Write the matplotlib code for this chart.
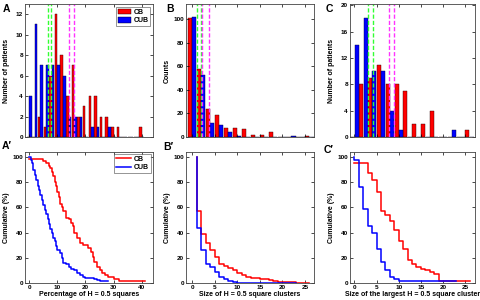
import numpy as np
import matplotlib
matplotlib.use("Agg")
import matplotlib.pyplot as plt
from matplotlib.patches import Patch
from matplotlib.lines import Line2D

RED = "#ff0000"
BLUE = "#0000ff"
GREEN = "#33ff33"
MAGENTA = "#ff33ff"

# ---- top row: histograms (bin centres, counts) ----
a_bins = list(range(0, 42, 2))
a_cb = [0, 0, 2, 1, 6, 12, 8, 4, 7, 2, 3, 4, 4, 2, 2, 1, 1, 0, 0, 0, 1]
a_cub = [4, 11, 7, 7, 7, 7, 6, 2, 2, 2, 0, 1, 1, 0, 1, 0, 0, 0, 0, 0, 0]
a_lines_cub = [6.8, 7.7]
a_lines_cb = [14.1, 15.9]

b_bins = list(range(0, 28, 2))
b_cb = [101, 58, 24, 19, 8, 8, 7, 2, 2, 4, 0, 0, 0, 1]
b_cub = [102, 53, 12, 10, 4, 1, 0, 0, 0, 0, 0, 1, 0, 0]
b_lines_cub = [1.0, 1.9]
b_lines_cb = [2.2, 3.7]

c_bins = list(range(0, 28, 2))
c_cb = [0, 8, 9, 11, 8, 8, 7, 2, 2, 4, 0, 0, 0, 1]
c_cub = [14, 18, 10, 10, 4, 1, 0, 0, 0, 0, 0, 1, 0, 0]
c_lines_cub = [3.0, 4.1]
c_lines_cb = [7.9, 8.9]

# ---- bottom row: cumulative step curves (x breakpoints, % of patients) ----
ap_x_cb = [0, 5, 6, 7, 7.5, 8, 8.5, 9, 9.5, 10, 10.5, 11, 11.5, 12, 13, 14, 15,
           15.5, 16, 17, 18, 19, 21, 22, 22.5, 23, 24, 25, 26, 27, 28, 30, 32, 41]
ap_y_cb = [98.3, 96.6, 95, 93, 91, 88, 85, 80, 77, 72, 68, 63, 60, 57, 52, 51, 48,
           45, 40, 36, 32, 30, 28, 25, 21, 17, 13, 10, 8, 6.7, 5, 3.3, 1.7, 1.7]
ap_x_cub = [0, 0.5, 1, 1.5, 2, 2.5, 3, 3.5, 4, 4.5, 5, 5.5, 6, 6.5, 7, 7.5, 8, 8.5,
            9, 9.5, 10, 11, 11.5, 12, 13, 14, 15, 16, 17, 18, 19, 20, 23, 24, 25, 28]
ap_y_cub = [100, 98, 95, 90, 86, 82, 77, 74, 70, 66, 62, 58, 55, 51, 47, 43, 40, 36,
            33, 29, 26, 24, 20, 16, 15, 13, 11, 10, 8, 6, 5, 4, 3.3, 2.5, 1.7, 1.7]

bp_x_cb = [1, 1, 2, 3, 4, 5, 6, 7, 8, 9, 10, 11, 12, 13, 15, 16, 17, 18, 19, 23, 26]
bp_y_cb = [100, 57, 39, 32, 26, 21, 15, 13.5, 12, 10, 8, 6, 5, 4, 3.5, 3, 2, 1.5, 0.8, 0.3, 0.3]
bp_x_cub = [1, 1, 2, 3, 4, 5, 6, 7, 8, 9, 10, 23]
bp_y_cub = [100, 44, 26, 15, 13, 9, 5, 3, 1.5, 0.8, 0.3, 0.3]

cp_x_cb = [0, 3, 4, 5, 6, 7, 8, 9, 10, 11, 12, 13, 14, 15, 16, 17, 18, 19, 26]
cp_y_cb = [95, 87, 82, 72, 57, 54, 49, 42, 33, 27, 18, 15, 13, 11.5, 10, 8.5, 7, 1.7, 1.7]
cp_x_cub = [0, 0, 1, 2, 3, 4, 5, 6, 7, 8, 9, 10, 23]
cp_y_cub = [100, 98, 76, 59, 45, 40, 27, 17, 10, 5, 3, 1.7, 1.7]

plt.rcParams.update({
    "font.family": "Liberation Sans",
    "font.size": 4.6,
    "font.weight": "bold",
    "axes.labelweight": "bold",
    "axes.linewidth": 0.6,
    "axes.edgecolor": "#444444",
    "xtick.direction": "in",
    "ytick.direction": "in",
    "xtick.top": True,
    "ytick.right": True,
    "xtick.major.size": 2,
    "ytick.major.size": 2,
    "xtick.major.width": 0.5,
    "ytick.major.width": 0.5,
    "xtick.major.pad": 1.5,
    "ytick.major.pad": 1.5,
})

W, H = 480, 300
fig = plt.figure(figsize=(4.8, 3.0), dpi=100)


def axes_px(left, right, top, bottom):
    return fig.add_axes([left / W, 1 - bottom / H, (right - left) / W, (bottom - top) / H])


cols = [(25, 153), (186, 314), (350, 475)]
top_row = (4, 137)
bot_row = (152, 283)


def histogram(ax, bins, cb, cub, lines_cub, lines_cb, xlim, ylim, yticks, xticks, off):
    x = np.array(bins, dtype=float)
    ax.bar(x - off, cb, width=0.9, color=RED, edgecolor="#300000", linewidth=0.3)
    ax.bar(x + off, cub, width=0.9, color=BLUE, edgecolor="#000030", linewidth=0.3)
    for v in lines_cub:
        ax.axvline(v, color=GREEN, linestyle=(0, (3, 1.5)), linewidth=1.0)
    for v in lines_cb:
        ax.axvline(v, color=MAGENTA, linestyle=(0, (3, 1.5)), linewidth=1.0)
    ax.set_xlim(*xlim)
    ax.set_ylim(*ylim)
    ax.set_yticks(yticks)
    ax.set_xticks(xticks)
    ax.set_xticklabels([])


def cumulative(ax, xcb, ycb, xcub, ycub, xlim, xticks, xlabel):
    ax.step(xcb, ycb, where="post", color=RED, linewidth=1.1)
    ax.step(xcub, ycub, where="post", color=BLUE, linewidth=1.1)
    ax.set_xlim(*xlim)
    ax.set_ylim(0, 104)
    ax.set_yticks(range(0, 101, 20))
    ax.set_xticks(xticks)
    ax.set_xlabel(xlabel, labelpad=1, fontsize=5)
    ax.set_ylabel("Cumulative (%)", labelpad=2, fontsize=5)


# A
ax = axes_px(*cols[0], *top_row)
histogram(ax, a_bins, a_cb, a_cub, a_lines_cub, a_lines_cb, (-1.5, 44), (0, 13),
          range(0, 13, 2), range(0, 41, 10), 0.45)
ax.set_ylabel("Number of patients", labelpad=4, fontsize=5)
ax.legend(handles=[Patch(facecolor=RED, edgecolor="k", linewidth=0.3, label="CB"),
                   Patch(facecolor=BLUE, edgecolor="k", linewidth=0.3, label="CUB")],
          loc="upper right", fontsize=5, frameon=True, fancybox=False, edgecolor="#444444",
          handlelength=1.9, handleheight=0.9, borderpad=0.25, labelspacing=0.2,
          handletextpad=0.3, borderaxespad=0.4).get_frame().set_linewidth(0.5)

# B
ax = axes_px(*cols[1], *top_row)
histogram(ax, b_bins, b_cb, b_cub, b_lines_cub, b_lines_cb, (-1.4, 27), (0, 113),
          range(0, 101, 20), range(0, 26, 5), 0.45)
ax.set_ylabel("Counts", labelpad=2, fontsize=5)

# C
ax = axes_px(*cols[2], *top_row)
histogram(ax, c_bins, c_cb, c_cub, c_lines_cub, c_lines_cb, (-1, 27.2), (0, 20.2),
          range(0, 21, 4), range(0, 26, 5), 0.5)
ax.set_ylabel("Number of patients", labelpad=4, fontsize=5)

# A'
ax = axes_px(*cols[0], *bot_row)
cumulative(ax, ap_x_cb, ap_y_cb, ap_x_cub, ap_y_cub, (-1.5, 44), range(0, 41, 10),
           "Percentage of H = 0.5 squares")
ax.legend(handles=[Line2D([], [], color=RED, linewidth=1.1, label="CB"),
                   Line2D([], [], color=BLUE, linewidth=1.1, label="CUB")],
          loc="upper right", fontsize=5, frameon=True, fancybox=False, edgecolor="#444444",
          handlelength=2.2, borderpad=0.25, labelspacing=0.2, handletextpad=0.4,
          borderaxespad=0.3).get_frame().set_linewidth(0.5)

# B'
ax = axes_px(*cols[1], *bot_row)
cumulative(ax, bp_x_cb, bp_y_cb, bp_x_cub, bp_y_cub, (-1.4, 27), range(0, 26, 5),
           "Size of H = 0.5 square clusters")

# C'
ax = axes_px(*cols[2], *bot_row)
cumulative(ax, cp_x_cb, cp_y_cb, cp_x_cub, cp_y_cub, (-1, 27.2), range(0, 26, 5),
           "Size of the largest H = 0.5 square cluster")

# panel letters
for txt, x, y in [("A", 3, 9), ("B", 166, 9), ("C", 326, 9),
                  ("A\u2032", 2, 146), ("B\u2032", 163, 147), ("C\u2032", 324, 150)]:
    fig.text(x / W, 1 - y / H, txt, fontsize=7.5, fontweight="bold", ha="left", va="center")

fig.savefig("out.png", dpi=100)
